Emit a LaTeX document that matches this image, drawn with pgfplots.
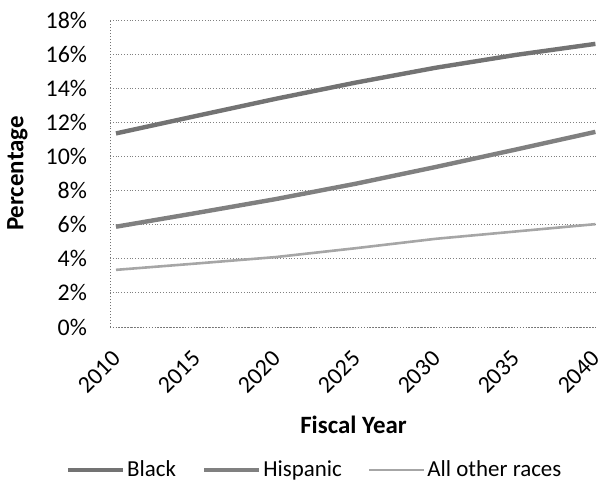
\documentclass[border=0pt]{standalone}
\usepackage{pgfplots}
\pgfplotsset{compat=1.18}
\usepackage{fontspec}
\setmainfont{Carlito}
\begin{document}
\begin{tikzpicture}
\useasboundingbox (0,0) rectangle (299bp,240.5bp);
\begin{axis}[
  at={(55bp,77bp)}, anchor=south west,
  scale only axis, width=243.5bp, height=153.5bp,
  xmin=2009.625, xmax=2040.1,
  ymin=0, ymax=18,
  xtick={2010,2015,2020,2025,2030,2035,2040},
  ytick={0,2,4,6,8,10,12,14,16,18},
  yticklabel={\pgfmathprintnumber{\tick}\%},
  /pgf/number format/assume math mode=true,
  /pgf/number format/1000 sep={},
  major tick length=0pt,
  axis x line=bottom, axis y line=left,
  axis line style={-, densely dotted, black!55, line width=0.5bp},
  ymajorgrids,
  grid style={densely dotted, black!50, line width=0.45bp},
  tick label style={font=\fontsize{12}{14}\selectfont},
  yticklabel style={anchor=east, xshift=-8bp},
  xticklabel style={xshift=1.5bp, yshift=-12.8bp, rotate=45, anchor=east, inner sep=1.5bp},
  xlabel={Fiscal Year},
  ylabel={Percentage},
  every axis x label/.style={at={(axis description cs:0.5,-0.319)}, anchor=center, font=\fontsize{12.5}{14}\selectfont\bfseries},
  every axis y label/.style={at={(axis description cs:-0.19,0.5)}, rotate=90, anchor=center, font=\fontsize{12.5}{14}\selectfont\bfseries},
  legend columns=3,
  legend style={at={(axis description cs:0.42,-0.466)}, anchor=center, draw=none, fill=none,
    font=\fontsize{11.5}{14}\selectfont, inner sep=0pt,
    nodes={inner xsep=1bp},
    /tikz/every even column/.append style={column sep=12bp}},
  legend image code/.code={\draw[#1] (0bp,0bp) -- (27.5bp,0bp);},
]
\addplot[color=black!55, line width=2.2bp] coordinates {
(2010,11.35) (2015,12.37) (2020,13.38) (2025,14.33) (2030,15.2) (2035,15.95) (2040,16.6)};
\addlegendentry{Black}
\addplot[color=black!50, line width=2.2bp] coordinates {
(2010,5.88) (2015,6.68) (2020,7.5) (2025,8.4) (2030,9.38) (2035,10.4) (2040,11.44)};
\addlegendentry{Hispanic}
\addplot[color=black!35, line width=1.3bp] coordinates {
(2010,3.35) (2015,3.72) (2020,4.1) (2025,4.62) (2030,5.17) (2035,5.6) (2040,6.03)};
\addlegendentry{All other races}
\end{axis}
\end{tikzpicture}
\end{document}
